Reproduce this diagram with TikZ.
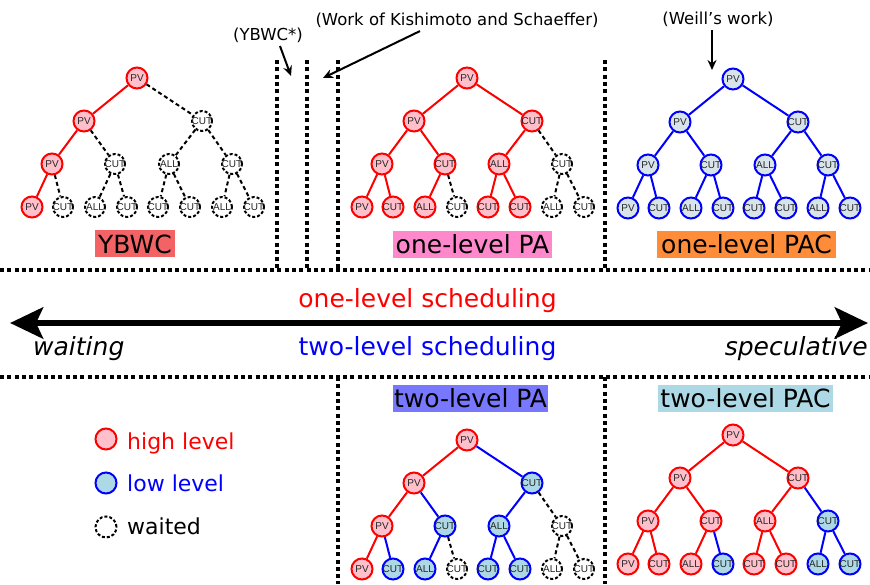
\documentclass[tikz,border=0pt]{standalone}
\usepackage{fontspec}
\setmainfont{DejaVu Sans}
\newfontfamily\nodefamily{Liberation Sans}
\usetikzlibrary{arrows.meta,calc}
\definecolor{hifill}{RGB}{255,192,203}
\definecolor{lofill}{RGB}{173,216,230}
\definecolor{lgfill}{RGB}{216,228,233}
\definecolor{cYBWC}{RGB}{243,99,101}
\definecolor{cPA}{RGB}{255,136,204}
\definecolor{cPAC}{RGB}{255,140,56}
\definecolor{cTPA}{RGB}{120,120,255}
\definecolor{cTPAC}{RGB}{173,216,230}
\newcommand\nodetxt[1]{\makebox[0pt][c]{\nodefamily\fontsize{10}{11}\selectfont #1}}
\tikzset{
 tn/.style={circle, minimum size=21pt, inner sep=0pt, line width=2pt, text=black!85},
 hi/.style={tn, draw=red, fill=hifill},
 lo/.style={tn, draw=blue, fill=lofill},
 lg/.style={tn, draw=blue, fill=lgfill},
 wt/.style={tn, draw=black, fill=white, dash pattern=on 3pt off 2pt, minimum size=20pt},
 er/.style={draw=red, line width=2pt},
 eb/.style={draw=blue, line width=2pt},
 ew/.style={draw=black, line width=2pt, dash pattern=on 4pt off 3pt},
 sepline/.style={line width=4pt, dash pattern=on 4pt off 3.3pt},
 lbl/.style={font=\fontsize{25}{30}\selectfont, inner sep=0pt, text height=23pt, text depth=4pt, text=black},
 big/.style={font=\fontsize{25}{30}\selectfont, inner sep=0pt},
 ann/.style={font=\fontsize{16.5}{20}\selectfont, inner sep=0pt},
 annarrow/.style={line width=2pt, -{Stealth[length=10pt,width=9pt]}},
 legtxt/.style={font=\fontsize{22}{26}\selectfont, inner sep=0pt, anchor=base west},
}
\newcommand\mytree[4]{%
 \begin{scope}[shift={#2}]
 \foreach \s/\dx/\lv/\lab [count=\i] in {#3} {%
   \node[\s] (#1\i) at (\dx,43*\lv) {\nodetxt{\lab}};
 }
 \end{scope}
 \foreach \s [count=\i from 2] in {#4} {%
   \pgfmathtruncatemacro\p{floor(\i/2)}%
   \draw[\s] (#1\p) -- (#1\i);
 }
}
\begin{document}
\begin{tikzpicture}[x=1pt,y=-1pt]
\useasboundingbox (0,0) rectangle (870,584);

% separators
\draw[sepline] (0,270) -- (870,270);
\draw[sepline] (0,377) -- (870,377);
\draw[sepline] (277,60) -- (277,270);
\draw[sepline] (307,60) -- (307,270);
\draw[sepline] (338,60) -- (338,270);
\draw[sepline] (605,60) -- (605,270);
\draw[sepline] (338,377) -- (338,584);
\draw[sepline] (605,377) -- (605,584);

% trees
\mytree{ya}{(137,78)}{hi/0/0/PV, hi/-53/1/PV, wt/65/1/CUT, hi/-85/2/PV, wt/-22/2/CUT, wt/32/2/ALL, wt/95/2/CUT,
  hi/-105/3/PV, wt/-74/3/CUT, wt/-42/3/ALL, wt/-10/3/CUT, wt/21/3/CUT, wt/53/3/CUT, wt/85/3/ALL, wt/117/3/CUT}
  {er,ew,er,ew,ew,ew,er,ew,ew,ew,ew,ew,ew,ew}
\mytree{pa}{(467,78)}{hi/0/0/PV, hi/-53/1/PV, hi/65/1/CUT, hi/-85/2/PV, hi/-22/2/CUT, hi/32/2/ALL, wt/95/2/CUT,
  hi/-105/3/PV, hi/-74/3/CUT, hi/-42/3/ALL, wt/-10/3/CUT, hi/21/3/CUT, hi/53/3/CUT, wt/85/3/ALL, wt/117/3/CUT}
  {er,er,er,er,er,ew,er,er,er,ew,er,er,ew,ew}
\mytree{pc}{(733,79)}{lg/0/0/PV, lg/-53/1/PV, lg/65/1/CUT, lg/-85/2/PV, lg/-22/2/CUT, lg/32/2/ALL, lg/95/2/CUT,
  lg/-105/3/PV, lg/-74/3/CUT, lg/-42/3/ALL, lg/-10/3/CUT, lg/21/3/CUT, lg/53/3/CUT, lg/85/3/ALL, lg/117/3/CUT}
  {eb,eb,eb,eb,eb,eb,eb,eb,eb,eb,eb,eb,eb,eb}
\mytree{ta}{(467,440)}{hi/0/0/PV, hi/-53/1/PV, lo/65/1/CUT, hi/-85/2/PV, lo/-22/2/CUT, lo/32/2/ALL, wt/95/2/CUT,
  hi/-105/3/PV, lo/-74/3/CUT, lo/-42/3/ALL, wt/-10/3/CUT, lo/21/3/CUT, lo/53/3/CUT, wt/85/3/ALL, wt/117/3/CUT}
  {er,eb,er,eb,eb,ew,er,eb,eb,ew,eb,eb,ew,ew}
\mytree{tc}{(733,435)}{hi/0/0/PV, hi/-53/1/PV, hi/65/1/CUT, hi/-85/2/PV, hi/-22/2/CUT, hi/32/2/ALL, lo/95/2/CUT,
  hi/-105/3/PV, hi/-74/3/CUT, hi/-42/3/ALL, lo/-10/3/CUT, hi/21/3/CUT, hi/53/3/CUT, lo/85/3/ALL, lo/117/3/CUT}
  {er,er,er,er,er,eb,er,er,er,eb,er,er,eb,eb}

% method labels
\node[lbl, fill=cYBWC, minimum width=80pt] (lY) at (135,243.5) {YBWC};
\node[lbl, fill=cPA, minimum width=159pt] (lPA) at (472.5,244) {one-level PA};
\node[lbl, fill=cPAC, minimum width=179pt] (lPAC) at (746.5,244) {one-level PAC};
\node[lbl, fill=cTPA, minimum width=155pt] (lTPA) at (470.5,398) {two-level PA};
\node[lbl, fill=cTPAC, minimum width=175pt] (lTPAC) at (745.5,398) {two-level PAC};

% scheduling axis
\coordinate (aL) at (10,323);
\coordinate (aR) at (868,323);
\draw[line width=6.5pt, {Stealth[length=33pt,width=31pt,inset=7pt]}-{Stealth[length=33pt,width=31pt,inset=7pt]}] (aL) -- (aR);
\node[big, text=red, anchor=base] (s1) at (427.5,307) {one-level scheduling};
\node[big, text=blue, anchor=base] (s2) at (427.5,355) {two-level scheduling};
\node[big, font=\itshape\fontsize{25}{30}\selectfont, anchor=base west] (w) at (33,355) {waiting};
\node[big, font=\itshape\fontsize{25}{30}\selectfont, anchor=base east] (sp) at (868,355) {speculative};

% annotations
\node[ann] (ay) at (268,35.5) {(YBWC*)};
\node[ann] (ak) at (457,20.5) {(Work of Kishimoto and Schaeffer)};
\node[ann] (aw) at (718,19) {(Weill's work)};
\coordinate (ayE) at (291,76);
\coordinate (akE) at (323,78);
\coordinate (awE) at (712,70);
\draw[annarrow] ($(ay.south)+(12,3)$) -- (ayE);
\draw[annarrow] ($(ak.south)+(-37,3)$) -- (akE);
\draw[annarrow] ($(aw.south)+(-6,3)$) -- (awE);

% legend
\node[hi, minimum size=21pt] (gh) at (106,439) {};
\node[lo, minimum size=21pt] (gl) at (106,483) {};
\node[wt, minimum size=21pt] (gw) at (106,527) {};
\node[legtxt, text=red] (th) at (127,449) {high level};
\node[legtxt, text=blue] (tl) at (127,491) {low level};
\node[legtxt] (tw) at (127,534) {waited};
\end{tikzpicture}
\end{document}
